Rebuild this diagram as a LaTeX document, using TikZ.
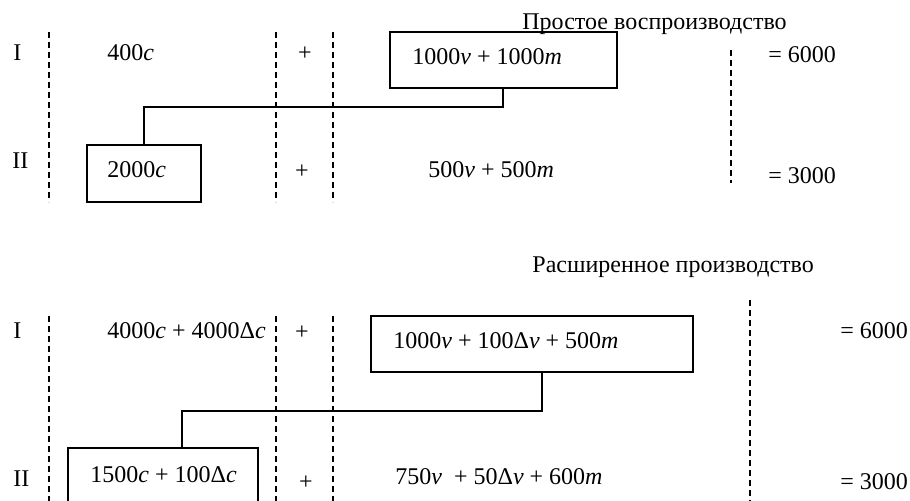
\documentclass[tikz,border=0pt]{standalone}
\usepackage{fontspec}
\setmainfont{Liberation Serif}
\begin{document}
\begin{tikzpicture}[x=0.5pt,y=-0.5pt,
  txt/.style={anchor=base west,inner sep=0pt,font=\fontsize{12}{14}\selectfont},
  pls/.style={anchor=base,inner sep=0pt,font=\fontsize{12}{14}\selectfont},
  boxr/.style={draw,line width=1pt,inner sep=0pt,rectangle},
  sepl/.style={line width=1pt,dash pattern=on 3pt off 2pt},
  link/.style={line width=1pt}]
\useasboundingbox (0,0) rectangle (910,501);
\clip (0,0) rectangle (910,501);
% ---------- simple reproduction ----------
\node[txt] (t1) at (522,30) {Простое воспроизводство};
\node[boxr,minimum width=113.5pt,minimum height=28pt] (b1) at (503.5,60) {};
\node[boxr,minimum width=57pt,minimum height=28.5pt] (b2) at (144,173.5) {};
\draw[sepl] (49,32) coordinate (d1a) -- (49,202) coordinate (d1b);
\draw[sepl] (276,32) coordinate (d2a) -- (276,202) coordinate (d2b);
\draw[sepl] (333,32) coordinate (d3a) -- (333,202) coordinate (d3b);
\draw[sepl] (731,50) coordinate (d4a) -- (731,183) coordinate (d4b);
\coordinate (k1) at (503,107);
\coordinate (k2) at (144,107);
\draw[link] (b1.south -| k1) -- (k1) -- (k2) -- (b2.north -| k2);
\node[txt] (r1) at (13,61) {I};
\node[txt] (a1) at (107,61) {400\textit{c}};
\node[pls] (p1) at (305,61) {+};
\node[txt] (v1) at (412,65) {1000\textit{v} + 1000\textit{m}};
\node[txt] (e1) at (768,63) {= 6000};
\node[txt] (r2) at (12,169) {II};
\node[txt] (a2) at (107,178) {2000\textit{c}};
\node[pls] (p2) at (302,179) {+};
\node[txt] (v2) at (428,178) {500\textit{v} + 500\textit{m}};
\node[txt] (e2) at (768,184) {= 3000};
% ---------- extended reproduction ----------
\node[txt] (t2) at (532,273) {Расширенное производство};
\node[boxr,minimum width=161pt,minimum height=28pt] (b3) at (532,344) {};
\node[boxr,minimum width=95pt,minimum height=40pt] (b4) at (163,488) {};
\draw[sepl] (49,316) coordinate (d5a) -- (49,505) coordinate (d5b);
\draw[sepl] (276,316) coordinate (d6a) -- (276,505) coordinate (d6b);
\draw[sepl] (333,316) coordinate (d7a) -- (333,505) coordinate (d7b);
\draw[sepl] (750,300) coordinate (d8a) -- (750,505) coordinate (d8b);
\coordinate (k3) at (542,411);
\coordinate (k4) at (182,411);
\draw[link] (b3.south -| k3) -- (k3) -- (k4) -- (b4.north -| k4);
\node[txt] (r3) at (13,339) {I};
\node[txt] (a3) at (107,339) {4000\textit{c} + 4000Δ\textit{c}};
\node[pls] (p3) at (302,340) {+};
\node[txt] (v3) at (393,349) {1000\textit{v} + 100Δ\textit{v} + 500\textit{m}};
\node[txt] (e3) at (840,339) {= 6000};
\node[txt] (r4) at (13,487) {II};
\node[txt] (a4) at (90,483) {1500\textit{c} + 100Δ\textit{c}};
\node[pls] (p4) at (306,490) {+};
\node[txt] (v4) at (395,485) {750\textit{v}\ \ + 50Δ\textit{v} + 600\textit{m}};
\node[txt] (e4) at (840,490) {= 3000};
\end{tikzpicture}
\end{document}
